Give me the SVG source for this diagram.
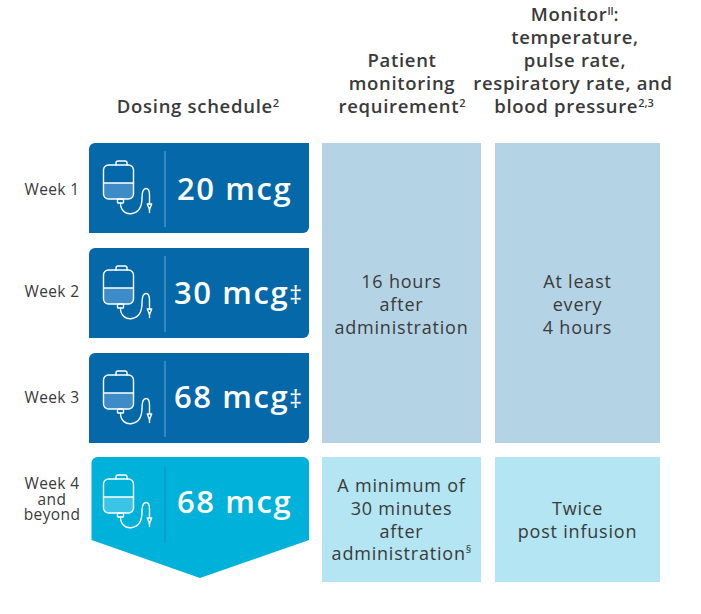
<svg xmlns="http://www.w3.org/2000/svg" width="701" height="614" viewBox="0 0 701 614">
<style>
  .hdr { font-family: "Open Sans", "Liberation Sans", sans-serif; font-weight: 600; font-size: 18.5px; fill: #3a3a3a; text-anchor: middle; letter-spacing: 0.7px; }
  .wk { font-family: "Open Sans", "Liberation Sans", sans-serif; font-size: 15.5px; fill: #3a3a3a; text-anchor: middle; letter-spacing: 0.4px; }
  .body { font-family: "Open Sans", "Liberation Sans", sans-serif; font-size: 18px; fill: #3a3a3a; text-anchor: middle; letter-spacing: 0.8px; }
  .dose { font-family: "Open Sans", "Liberation Sans", sans-serif; font-weight: 600; font-size: 31px; fill: #ffffff; letter-spacing: 1.6px; }
  .dag { font-size: 25px; font-weight: 400; letter-spacing: 0; }
  .sup { font-size: 11px; letter-spacing: 0; }
  .dark { fill: #0568a9; }
  .cyan { fill: #00b1d9; }
  .lt1 { fill: #b4d4e6; }
  .lt2 { fill: #b3e5f2; }
</style>
<defs>
  <g id="bag" stroke-linecap="round" stroke-linejoin="round">
    <path d="M104,183 H133 V194 A5,5 0 0 1 128,199 H109 A5,5 0 0 1 104,194 Z" stroke="none"/>
    <g fill="none" stroke="#ffffff" stroke-width="1.4">
      <path d="M116,165 V163 Q116,161 118,161 H125 Q127,161 127,163 V165"/>
      <rect x="103.5" y="165" width="30" height="34" rx="5"/>
      <line x1="103.5" y1="183" x2="133.5" y2="183"/>
      <rect x="117.5" y="199" width="6" height="4" rx="0.8"/>
      <path d="M120.5,203 C120.5,211 126,214.5 132,213.5 C139,212.3 142,207 142,198 C142,191 143.5,188.5 146,188.5 C148.5,188.5 149.5,191 149.5,195 V204"/>
      <path d="M147.3,204 H151.7 L149.5,209.5 Z"/>
      <line x1="149.5" y1="209.5" x2="149.5" y2="212.5"/>
    </g>
  </g>
</defs>

<g id="headers">
  <text class="hdr" x="198" y="113">Dosing schedule<tspan class="sup" dy="-6">2</tspan></text>
  <text class="hdr" x="402" y="67">Patient</text>
  <text class="hdr" x="402" y="90">monitoring</text>
  <text class="hdr" x="402" y="113">requirement<tspan class="sup" dy="-6">2</tspan></text>
  <text class="hdr" x="575" y="21">Monitor<tspan class="sup" dy="-6">ll</tspan><tspan dy="6">:</tspan></text>
  <text class="hdr" x="575" y="44">temperature,</text>
  <text class="hdr" x="575" y="67">pulse rate,</text>
  <text class="hdr" x="573" y="90">respiratory rate, and</text>
  <text class="hdr" x="574" y="113">blood pressure<tspan class="sup" dy="-6">2,3</tspan></text>
</g>

<g id="week-labels">
  <text class="wk" x="52" y="195">Week 1</text>
  <text class="wk" x="52" y="297">Week 2</text>
  <text class="wk" x="52" y="403">Week 3</text>
  <text class="wk" x="52" y="489">Week 4</text>
  <text class="wk" x="52" y="504.5">and</text>
  <text class="wk" x="52" y="520">beyond</text>
</g>

<g id="week1">
  <path class="dark" d="M89,149 A6,6 0 0 1 95,143 H309 V227 A6,6 0 0 1 303,233 H89 Z"/>
  <use href="#bag" fill="#3d8bc7"/>
  <line x1="165" y1="151" x2="165" y2="227" stroke="#5d9dd0" stroke-width="1.2"/>
  <text class="dose" x="177" y="200">20 mcg</text>
</g>

<g id="week2">
  <path class="dark" d="M89,254 A6,6 0 0 1 95,248 H309 V332 A6,6 0 0 1 303,338 H89 Z"/>
  <use href="#bag" fill="#3d8bc7" transform="translate(0,105)"/>
  <line x1="165" y1="256" x2="165" y2="332" stroke="#5d9dd0" stroke-width="1.2"/>
  <text class="dose" x="174" y="304">30 mcg<tspan class="dag">‡</tspan></text>
</g>

<g id="week3">
  <path class="dark" d="M89,359 A6,6 0 0 1 95,353 H309 V437 A6,6 0 0 1 303,443 H89 Z"/>
  <use href="#bag" fill="#3d8bc7" transform="translate(0,210)"/>
  <line x1="165" y1="361" x2="165" y2="437" stroke="#5d9dd0" stroke-width="1.2"/>
  <text class="dose" x="174" y="408">68 mcg<tspan class="dag">‡</tspan></text>
</g>

<g id="week4">
  <path class="cyan" d="M91.5,463 A6,6 0 0 1 97.5,457 H303 A6,6 0 0 1 309,463 V540 L200,578 L91.5,540 Z"/>
  <use href="#bag" fill="#3cc4e6" transform="translate(0,314)"/>
  <line x1="165" y1="467" x2="165" y2="543" stroke="#1a8fc2" stroke-width="1.2"/>
  <text class="dose" x="177" y="513">68 mcg</text>
</g>

<g id="monitoring-weeks1-3">
  <rect class="lt1" x="322" y="143" width="159" height="300"/>
  <text class="body" x="401.5" y="288">16 hours</text>
  <text class="body" x="401.5" y="311">after</text>
  <text class="body" x="401.5" y="334">administration</text>
</g>

<g id="vitals-weeks1-3">
  <rect class="lt1" x="495" y="143" width="165" height="300"/>
  <text class="body" x="577.5" y="288">At least</text>
  <text class="body" x="577.5" y="311">every</text>
  <text class="body" x="577.5" y="334">4 hours</text>
</g>

<g id="monitoring-week4">
  <rect class="lt2" x="322" y="457" width="159" height="125"/>
  <text class="body" x="401.5" y="492">A minimum of</text>
  <text class="body" x="401.5" y="515">30 minutes</text>
  <text class="body" x="401.5" y="538">after</text>
  <text class="body" x="401.5" y="560">administration<tspan class="sup" dy="-7">§</tspan></text>
</g>

<g id="vitals-week4">
  <rect class="lt2" x="495" y="457" width="165" height="125"/>
  <text class="body" x="577.5" y="515">Twice</text>
  <text class="body" x="577.5" y="538">post infusion</text>
</g>

<g id="connectors"></g>
</svg>
